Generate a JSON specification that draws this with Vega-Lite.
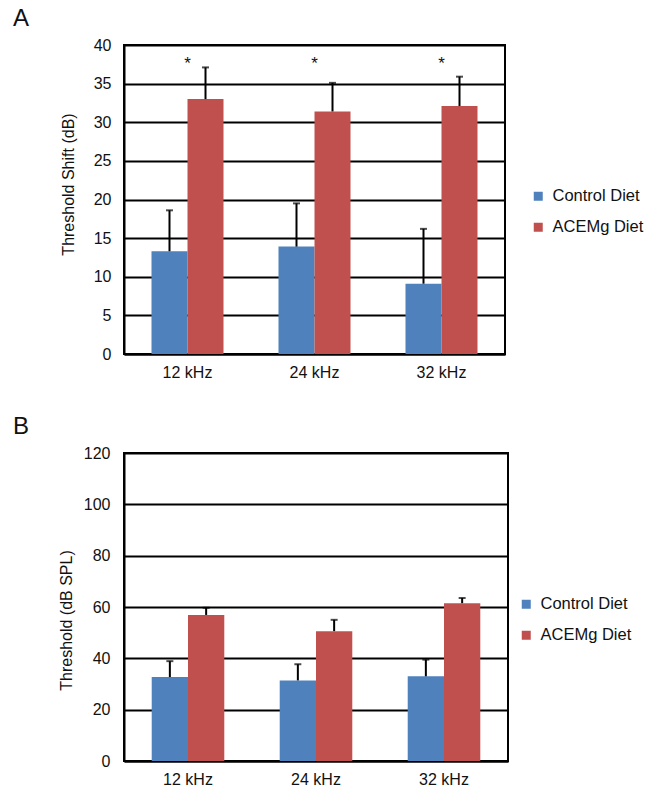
{
  "$schema": "https://vega.github.io/schema/vega-lite/v6.json",
  "background": "white",
  "padding": {"left": 12, "top": 6, "right": 0, "bottom": 0},
  "datasets": {
    "shift": [
      {"freq": "12 kHz", "diet": "Control Diet", "value": 13.3, "upper": 18.6, "sig": ""},
      {"freq": "12 kHz", "diet": "ACEMg Diet", "value": 33.0, "upper": 37.1, "sig": "*"},
      {"freq": "24 kHz", "diet": "Control Diet", "value": 13.9, "upper": 19.5, "sig": ""},
      {"freq": "24 kHz", "diet": "ACEMg Diet", "value": 31.4, "upper": 35.1, "sig": "*"},
      {"freq": "32 kHz", "diet": "Control Diet", "value": 9.1, "upper": 16.2, "sig": ""},
      {"freq": "32 kHz", "diet": "ACEMg Diet", "value": 32.1, "upper": 35.9, "sig": "*"}
    ],
    "threshold": [
      {"freq": "12 kHz", "diet": "Control Diet", "value": 32.7, "upper": 38.9},
      {"freq": "12 kHz", "diet": "ACEMg Diet", "value": 56.9, "upper": 59.7},
      {"freq": "24 kHz", "diet": "Control Diet", "value": 31.4, "upper": 37.7},
      {"freq": "24 kHz", "diet": "ACEMg Diet", "value": 50.6, "upper": 55.0},
      {"freq": "32 kHz", "diet": "Control Diet", "value": 33.0, "upper": 39.5},
      {"freq": "32 kHz", "diet": "ACEMg Diet", "value": 61.5, "upper": 63.5}
    ]
  },
  "vconcat": [
    {
      "title": {"text": "A", "anchor": "start", "frame": "group", "dx": -111, "offset": 6, "fontSize": 24, "fontWeight": "normal", "font": "Liberation Sans", "color": "#111"},
      "width": 381,
      "height": 309,
      "data": {"name": "shift"},
      "encoding": {
        "x": {"field": "freq", "type": "nominal", "sort": ["12 kHz", "24 kHz", "32 kHz"],
              "scale": {"paddingInner": 0.433, "paddingOuter": 0.2165},
              "axis": {"title": null, "labelAngle": 0, "labelPadding": 10, "grid": false}}
      },
      "layer": [
        {
          "mark": {"type": "bar"},
          "encoding": {
            "xOffset": {"field": "diet", "type": "nominal", "scale": {"domain": ["Control Diet", "ACEMg Diet"], "paddingInner": 0, "paddingOuter": 0}},
            "y": {"field": "value", "type": "quantitative", "scale": {"domain": [0, 40], "nice": false},
                  "axis": {"title": "Threshold Shift (dB)", "values": [0, 5, 10, 15, 20, 25, 30, 35, 40], "grid": true, "labelPadding": 13, "titlePadding": 17, "titleY": 139, "labelOverlap": false}},
            "color": {"field": "diet", "type": "nominal",
                      "scale": {"domain": ["Control Diet", "ACEMg Diet"], "range": ["#4F81BD", "#C0504D"]},
                      "legend": {"orient": "none", "legendX": 406, "legendY": 143, "title": null, "symbolType": "square", "symbolSize": 81, "symbolStrokeWidth": 0, "labelFontSize": 16.5, "labelOffset": 6, "rowPadding": 14, "labelColor": "#111", "labelFont": "Liberation Sans"}}
          }
        },
        {
          "mark": {"type": "rule", "color": "black", "strokeWidth": 2},
          "encoding": {
            "xOffset": {"field": "diet", "type": "nominal", "scale": {"domain": ["Control Diet", "ACEMg Diet"], "paddingInner": 0, "paddingOuter": 0}},
            "y": {"field": "value", "type": "quantitative", "scale": {"domain": [0, 40], "nice": false},
                  "axis": {"title": "Threshold Shift (dB)", "values": [0, 5, 10, 15, 20, 25, 30, 35, 40], "grid": true, "labelPadding": 13, "titlePadding": 17, "titleY": 139, "labelOverlap": false}},
            "y2": {"field": "upper"}
          }
        },
        {
          "mark": {"type": "tick", "color": "black", "thickness": 2, "size": 7},
          "encoding": {
            "xOffset": {"field": "diet", "type": "nominal", "scale": {"domain": ["Control Diet", "ACEMg Diet"], "paddingInner": 0, "paddingOuter": 0}},
            "y": {"field": "upper", "type": "quantitative", "scale": {"domain": [0, 40], "nice": false},
                  "axis": {"title": "Threshold Shift (dB)", "values": [0, 5, 10, 15, 20, 25, 30, 35, 40], "grid": true, "labelPadding": 13, "titlePadding": 17, "titleY": 139, "labelOverlap": false}}
          }
        },
        {
          "transform": [{"filter": "datum.sig == '*'"}],
          "mark": {"type": "text", "fontSize": 17, "font": "Liberation Sans", "color": "#111", "baseline": "middle", "dy": 4},
          "encoding": {
            "y": {"datum": 38, "type": "quantitative", "scale": {"domain": [0, 40], "nice": false},
                  "axis": {"title": "Threshold Shift (dB)", "values": [0, 5, 10, 15, 20, 25, 30, 35, 40], "grid": true, "labelPadding": 13, "titlePadding": 17, "titleY": 139, "labelOverlap": false}},
            "text": {"field": "sig"}
          }
        }
      ]
    },
    {
      "title": {"text": "B", "anchor": "start", "frame": "group", "dx": -111, "offset": 6, "fontSize": 24, "fontWeight": "normal", "font": "Liberation Sans", "color": "#111"},
      "width": 384,
      "height": 308,
      "data": {"name": "threshold"},
      "encoding": {
        "x": {"field": "freq", "type": "nominal", "sort": ["12 kHz", "24 kHz", "32 kHz"],
              "scale": {"paddingInner": 0.433, "paddingOuter": 0.2165},
              "axis": {"title": null, "labelAngle": 0, "labelPadding": 10, "grid": false}},
        "xOffset": {"field": "diet", "type": "nominal", "scale": {"domain": ["Control Diet", "ACEMg Diet"], "paddingInner": 0, "paddingOuter": 0}}
      },
      "layer": [
        {
          "mark": {"type": "bar"},
          "encoding": {
            "y": {"field": "value", "type": "quantitative", "scale": {"domain": [0, 120], "nice": false},
                  "axis": {"title": "Threshold (dB SPL)", "values": [0, 20, 40, 60, 80, 100, 120], "grid": true, "labelPadding": 14, "titlePadding": 9, "titleY": 167, "labelOverlap": false}},
            "color": {"field": "diet", "type": "nominal",
                      "scale": {"domain": ["Control Diet", "ACEMg Diet"], "range": ["#4F81BD", "#C0504D"]},
                      "legend": {"orient": "none", "legendX": 394, "legendY": 143, "title": null, "symbolType": "square", "symbolSize": 81, "symbolStrokeWidth": 0, "labelFontSize": 16.5, "labelOffset": 6, "rowPadding": 14, "labelColor": "#111", "labelFont": "Liberation Sans"}}
          }
        },
        {
          "mark": {"type": "rule", "color": "black", "strokeWidth": 2},
          "encoding": {
            "y": {"field": "value", "type": "quantitative", "scale": {"domain": [0, 120], "nice": false},
                  "axis": {"title": "Threshold (dB SPL)", "values": [0, 20, 40, 60, 80, 100, 120], "grid": true, "labelPadding": 14, "titlePadding": 9, "titleY": 167, "labelOverlap": false}},
            "y2": {"field": "upper"}
          }
        },
        {
          "mark": {"type": "tick", "color": "black", "thickness": 2, "size": 7},
          "encoding": {
            "y": {"field": "upper", "type": "quantitative", "scale": {"domain": [0, 120], "nice": false},
                  "axis": {"title": "Threshold (dB SPL)", "values": [0, 20, 40, 60, 80, 100, 120], "grid": true, "labelPadding": 14, "titlePadding": 9, "titleY": 167, "labelOverlap": false}}
          }
        }
      ]
    }
  ],
  "spacing": 33,
  "resolve": {
    "scale": {"x": "independent", "y": "independent", "xOffset": "independent", "color": "independent"},
    "legend": {"color": "independent"}
  },
  "config": {
    "font": "Liberation Sans",
    "view": {"stroke": "black", "strokeWidth": 2},
    "axis": {
      "labelFont": "Liberation Sans", "labelFontSize": 16, "labelColor": "#111",
      "titleFont": "Liberation Sans", "titleFontSize": 16, "titleFontWeight": "normal", "titleColor": "#111",
      "domainColor": "black", "domainWidth": 2, "ticks": false,
      "gridColor": "black", "gridWidth": 2
    }
  }
}
